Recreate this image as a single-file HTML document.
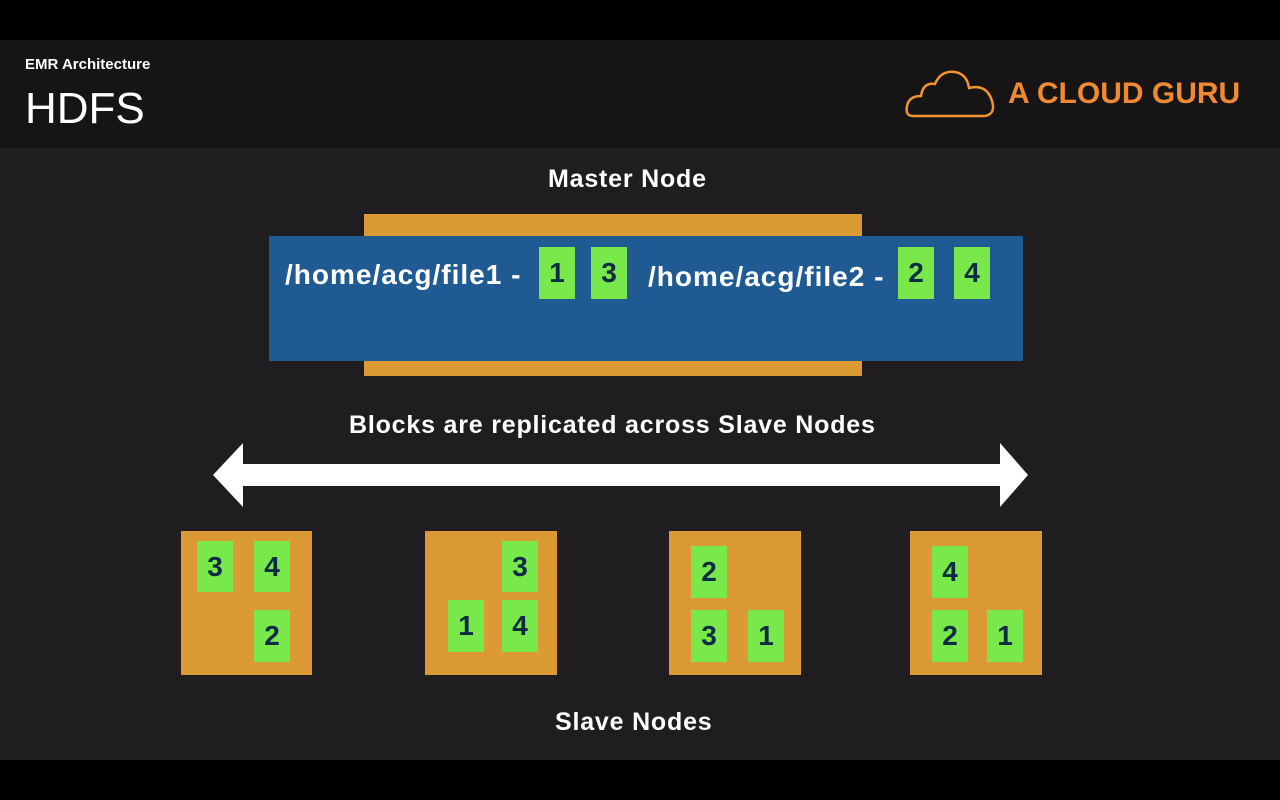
<!DOCTYPE html>
<html><head><style>
body{margin:0;width:1280px;height:800px;background:#000;position:relative;overflow:hidden;font-family:"Liberation Sans",sans-serif}
div{position:absolute}
.o{background:#dc9a34}
.g{background:#78e84a;width:36px;height:52px;color:#0d2b45;font-weight:bold;font-size:28px;text-align:center;line-height:52px}
.t{color:#fff;font-weight:bold;font-size:25px;letter-spacing:0.8px;white-space:nowrap}
</style></head><body>
<div style="left:0;top:40px;width:1280px;height:108px;background:#161415"></div>
<div style="left:0;top:148px;width:1280px;height:612px;background:#1f1d20"></div>
<div style="left:25px;top:56px;color:#fff;font-size:15px;font-weight:bold">EMR Architecture</div>
<div style="left:25px;top:84px;color:#fff;font-size:44px">HDFS</div>
<svg style="position:absolute;left:905px;top:68px" width="95" height="52"><path d="M8 48 Q0 48 2 38 Q4 28 16 28 Q18 14 30 16 Q36 2 50 4 Q62 6 64 20 Q80 16 86 30 Q92 46 80 48 Z" fill="none" stroke="#f0952e" stroke-width="2.5"/></svg>
<div style="left:1008px;top:77px;color:#f08a32;font-size:30px;font-weight:bold">A CLOUD GURU</div>
<div class="t" style="left:548px;top:165px">Master Node</div>
<div class="o" style="left:364px;top:214px;width:498px;height:162px"></div>
<div style="left:269px;top:236px;width:754px;height:125px;background:#1f5b92"></div>
<div class="t" style="left:285px;top:259px;font-size:28px;letter-spacing:1px">/home/acg/file1 -</div>
<div class="t" style="left:648px;top:261px;font-size:28px;letter-spacing:1px">/home/acg/file2 -</div>
<div class="g" style="left:539px;top:247px">1</div>
<div class="g" style="left:591px;top:247px">3</div>
<div class="g" style="left:898px;top:247px">2</div>
<div class="g" style="left:954px;top:247px">4</div>
<div class="t" style="left:349px;top:411px">Blocks are replicated across Slave Nodes</div>
<svg style="position:absolute;left:0;top:0" width="1280" height="800"><polygon points="213,475 243,443 243,464 1000,464 1000,443 1028,475 1000,507 1000,486 243,486 243,507" fill="#fff"/></svg>
<div class="o" style="left:181px;top:531px;width:131px;height:144px"></div>
<div class="g" style="left:197px;top:541px;height:51px">3</div>
<div class="g" style="left:254px;top:541px;height:51px">4</div>
<div class="g" style="left:254px;top:610px">2</div>
<div class="o" style="left:425px;top:531px;width:132px;height:144px"></div>
<div class="g" style="left:502px;top:541px;height:51px">3</div>
<div class="g" style="left:448px;top:600px">1</div>
<div class="g" style="left:502px;top:600px">4</div>
<div class="o" style="left:669px;top:531px;width:132px;height:144px"></div>
<div class="g" style="left:691px;top:546px">2</div>
<div class="g" style="left:691px;top:610px">3</div>
<div class="g" style="left:748px;top:610px">1</div>
<div class="o" style="left:910px;top:531px;width:132px;height:144px"></div>
<div class="g" style="left:932px;top:546px">4</div>
<div class="g" style="left:932px;top:610px">2</div>
<div class="g" style="left:987px;top:610px">1</div>
<div class="t" style="left:555px;top:708px">Slave Nodes</div>
</body></html>
